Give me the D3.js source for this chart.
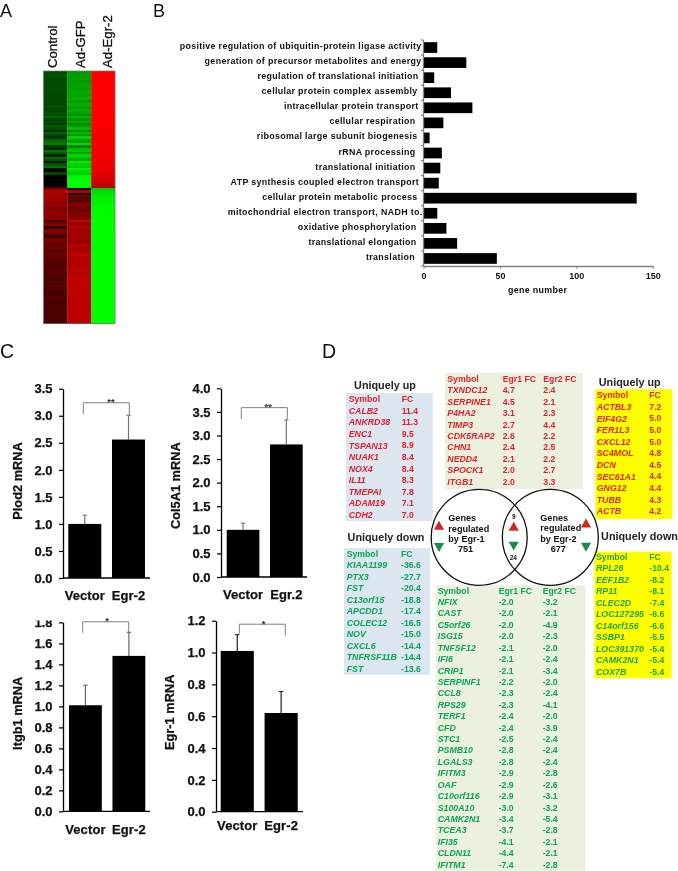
<!DOCTYPE html>
<html><head><meta charset="utf-8">
<script src="https://cdn.jsdelivr.net/npm/d3@7"></script>
<style>
html,body{margin:0;padding:0;background:#fff}
svg{display:block;font-family:"Liberation Sans",Arial,sans-serif;filter:blur(0.35px)}
</style></head><body>
<script>
// ---------- Panel A data ----------
const heatSamples = ["Control","Ad-GFP","Ad-Egr-2"];
const heatControl = [-.30,-.31,-.30,-.29,-.31,-.30,-.27,-.30,-.32,-.28,-.30,-.27,-.31,-.28,-.25,-.33,-.30,-.25,-.34,-.28,-.40,-.26,-.30,-.22,-.36,-.30,-.18,-.38,-.28,-.20,-.40,-.44,-.48,-.24,-.14,-.46,-.36,-.12,-.42,-.30,-.08,-.34,-.46,-.05,-.02,-.28,0,0,-.03,0,.06,.10,
 .50,.72,.62,.65,.66,.62,.58,.60,.52,.52,.55,.54,.56,.55,.24,.48,.52,.20,.50,.52,.45,.24,.46,.48,.42,.40,.44,.30,.38,.42,.36,.40,.34,.34,.26,.36,.34,.32,.36,.32,.30,.34,.30,.34,.32,.28,.28,.30,.33,.30,.26,.30,.28,.31,.30,.29,.30,.29,.29,.30];
const heatGfp = [-.60,-.62,-.60,-.63,-.60,-.62,-.64,-.62,-.65,-.66,-.64,-.66,-.68,-.60,-.70,-.66,-.58,-.68,-.62,-.55,-.70,-.58,-.66,-.50,-.62,-.74,-.54,-.72,-.60,-.82,-.66,-.60,-.84,-.52,-.72,-.78,-.62,-.84,-.72,-.64,-.92,-.84,-.76,-.96,-.88,-.80,-.94,-1,-.98,-1,-1,-.96,
 .08,.70,.06,.45,.35,.32,.48,.55,.44,.42,.50,.52,.50,.52,.78,.55,.60,.70,.58,.62,.68,.60,.66,.62,.62,.72,.64,.68,.66,.76,.70,.68,.72,.74,.66,.70,.74,.70,.70,.74,.78,.72,.75,.72,.76,.74,.72,.75,.74,.72,.76,.74,.73,.75,.73,.74,.75,.73,.74,.73];
const heatEgr2 = [1,1,1,1,1,1,1,1,1,1,1,1,1,1,1,.99,1,1,.99,1,1,.99,.98,1,.98,.99,.98,.97,.98,.97,.96,.97,.96,.97,.95,.96,.95,.94,.95,.93,.94,.92,.93,.92,.9,.88,.86,.85,.84,.82,.76,.72,
 -.82,-.86,-.88,-.92,-.94,-.95,-.96,-.97,-.98,-.98,-.99,-.99,-1,-.99,-1,-1,-.99,-1,-1,-1,-1,-1,-1,-1,-1,-1,-1,-1,-1,-1,-1,-1,-1,-1,-1,-1,-1,-1,-1,-1,-1,-1,-1,-1,-1,-1,-1,-1,-1,-1,-1,-1,-1,-1,-1,-1,-1,-1,-1,-1];
// ---------- Panel B data ----------
const goTerms = ["positive regulation of ubiquitin-protein ligase activity","generation of precursor metabolites and energy","regulation of translational initiation","cellular protein complex assembly","intracellular protein transport","cellular respiration","ribosomal large subunit biogenesis","rRNA processing","translational initiation","ATP synthesis coupled electron transport","cellular protein metabolic process","mitochondrial electron transport, NADH to.","oxidative phosphorylation","translational elongation","translation"];
const goCounts = [9,28,7,18,32,13,4,12,11,10,139.5,9,15,22,48];
const goTicks = [0,50,100,150];
// ---------- Panel C data ----------
const plod2Groups = ["Vector","Egr-2"], plod2Values = [1.0,2.56], plod2Tops = [1.16,3.01], plod2Ticks = [0,.5,1,1.5,2,2.5,3,3.5];
const col5Groups = ["Vector","Egr.2"], col5Values = [1.0,2.81], col5Tops = [1.14,3.33], col5Ticks = [0,.5,1,1.5,2,2.5,3,3.5,4];
const itgbGroups = ["Vector","Egr-2"], itgbValues = [1.01,1.48], itgbTops = [1.2,1.705], itgbTicks = [0,.2,.4,.6,.8,1,1.2,1.4,1.6,1.8];
const egr1Groups = ["Vector","Egr-2"], egr1Values = [1.01,.62], egr1Tops = [1.113,.755], egr1Ticks = [0,.2,.4,.6,.8,1,1.2];
// ---------- Panel D data ----------
const upEgr1Sym = ["CALB2","ANKRD38","ENC1","TSPAN13","NUAK1","NOX4","IL11","TMEPAI","ADAM19","CDH2"];
const upEgr1FC = ["11.4","11.3","9.5","8.9","8.4","8.4","8.3","7.8","7.1","7.0"];
const downEgr1Sym = ["KIAA1199","PTX3","FST","C13orf15","APCDD1","COLEC12","NOV","CXCL6","TNFRSF11B","FST"];
const downEgr1FC = ["-36.6","-27.7","-20.4","-18.8","-17.4","-16.5","-15.0","-14.4","-14.4","-13.6"];
const upBothSym = ["TXNDC12","SERPINE1","P4HA2","TIMP3","CDK5RAP2","CHN1","NEDD4","SPOCK1","ITGB1"];
const upBothE1 = ["4.7","4.5","3.1","2.7","2.6","2.4","2.1","2.0","2.0"];
const upBothE2 = ["2.4","2.1","2.3","4.4","2.2","2.5","2.2","2.7","3.3"];
const downBothSym = ["NFIX","CAST","C5orf26","ISG15","TNFSF12","IFI6","CRIP1","SERPINF1","CCL8","RPS29","TERF1","CFD","STC1","PSMB10","LGALS3","IFITM3","OAF","C10orf116","S100A10","CAMK2N1","TCEA3","IFI35","CLDN11","IFITM1"];
const downBothE1 = ["-2.0","-2.0","-2.0","-2.0","-2.1","-2.1","-2.1","-2.2","-2.3","-2.3","-2.4","-2.4","-2.5","-2.8","-2.8","-2.9","-2.9","-2.9","-3.0","-3.4","-3.7","-4.1","-4.4","-7.4"];
const downBothE2 = ["-3.2","-2.1","-4.9","-2.3","-2.0","-2.4","-3.4","-2.0","-2.4","-4.1","-2.0","-3.9","-2.4","-2.4","-2.4","-2.8","-2.6","-3.1","-3.2","-5.4","-2.8","-2.1","-2.1","-2.8"];
const upEgr2Sym = ["ACTBL3","EIF4G2","FER1L3","CXCL12","SC4MOL","DCN","SEC61A1","GNG12","TUBB","ACTB"];
const upEgr2FC = ["7.2","5.0","5.0","5.0","4.8","4.5","4.4","4.4","4.3","4.2"];
const downEgr2Sym = ["RPL26","EEF1B2","RP11","CLEC2D","LOC127295","C14orf156","SSBP1","LOC391370","CAMK2N1","COX7B"];
const downEgr2FC = ["-10.4","-8.2","-8.1","-7.4","-6.6","-6.6","-5.5","-5.4","-5.4","-5.4"];

const svg = d3.select("body").append("svg").attr("width",678).attr("height",871);
const RED="#e1212b", GREEN="#0aa653";

// panel letters
[["A",0,16.5,18],["B",153,16.5,18],["C",0,358,19.5],["D",322,358,19.5]].forEach(([t,x,y,s])=>
  svg.append("text").attr("x",x).attr("y",y).attr("font-size",s).attr("fill","#111").text(t));

// ---------- A ----------
{
  const g = svg.append("g");
  const x = d3.scaleBand().domain(heatSamples).range([43.5,115]);
  // the two clusters occupy different heights in the figure
  const yUp = d3.scaleLinear().domain([0,52]).range([71,188]);
  const yDn = d3.scaleLinear().domain([52,112]).range([188,323.5]);
  const yPos = i => Math.round(i<=52 ? yUp(i) : yDn(i));
  const color = d3.scaleLinear().domain([-1,0,1]).range(["#00ff00","#000000","#ff0000"]);
  [heatControl,heatGfp,heatEgr2].forEach((col,c)=>{
    g.selectAll(null).data(col).join("rect")
      .attr("x",x(heatSamples[c])).attr("width",x.bandwidth()+.2)
      .attr("y",(d,i)=>yPos(i)).attr("height",(d,i)=>yPos(i+1)-yPos(i))
      .attr("fill",d=>color(d));
  });
  g.append("rect").attr("x",43.5).attr("y",71).attr("width",71.5).attr("height",252.5)
    .attr("fill","none").attr("stroke","#777").attr("stroke-width",.7);
  heatSamples.forEach((s,i)=>{
    const tx=[57,85,111.5][i];
    svg.append("text").attr("transform",`translate(${tx},68) rotate(-90)`)
      .attr("font-size",13.2).attr("fill","#111").attr("stroke","#111").attr("stroke-width",.3).text(s);
  });
}

// ---------- B ----------
{
  const g = svg.append("g");
  const x = d3.scaleLinear().domain([0,150]).range([423.5,652.7]);
  const y = d3.scaleBand().domain(goTerms).range([40,266]).paddingInner(.29).paddingOuter(.145);
  const step = y.step();
  const labelInset = [2,2,5,6,5,8,6,8,8,4.5,6,1,7,7,8.5];
  g.selectAll(null).data(goCounts).join("rect")
    .attr("x",x(0)).attr("y",(d,i)=>y(goTerms[i])).attr("height",y.bandwidth())
    .attr("width",d=>x(d)-x(0)).attr("fill","#000");
  g.selectAll(null).data(goTerms).join("text")
    .attr("x",(d,i)=>x(0)-labelInset[i]).attr("y",d=>y(d)+y.bandwidth()/2-.8)
    .attr("text-anchor","end").attr("dominant-baseline","middle")
    .attr("font-size",8.9).attr("font-weight","bold").attr("letter-spacing",.33).attr("fill","#111").text(d=>d);
  const axis = g.append("g").attr("transform","translate(0,266)")
    .call(d3.axisBottom(x).tickValues(goTicks).tickSize(2.5).tickSizeOuter(0).tickPadding(4));
  axis.select(".domain").attr("stroke","#808080").attr("stroke-width",1.3);
  axis.selectAll("line").attr("stroke","#808080").attr("stroke-width",1.2);
  axis.selectAll("text").attr("font-family",null).attr("font-size",9).attr("font-weight","bold").attr("fill","#111");
  g.append("line").attr("x1",x(0)).attr("x2",x(0)).attr("y1",40).attr("y2",266).attr("stroke","#808080").attr("stroke-width",1.3);
  g.selectAll(null).data(d3.range(goTerms.length+1)).join("line")
    .attr("x1",x(0)-2.5).attr("x2",x(0)).attr("y1",i=>40+i*step).attr("y2",i=>40+i*step)
    .attr("stroke","#808080").attr("stroke-width",1.1);
  g.append("text").attr("x",537.7).attr("y",293).attr("text-anchor","middle")
    .attr("font-size",8.9).attr("font-weight","bold").attr("letter-spacing",.33).attr("fill","#111").text("gene number");
}

// ---------- C ----------
function barChart(o){
  const g = svg.append("g");
  const x = d3.scaleBand().domain(o.groups).range(o.barRange).paddingInner(.245);
  const y = d3.scaleLinear().domain([0,o.max]).range([o.y0,o.yTop]);
  const cx = i => x(o.groups[i])+x.bandwidth()/2;
  // error bars
  g.selectAll(null).data(o.tops).join("line")
    .attr("x1",(d,i)=>cx(i)).attr("x2",(d,i)=>cx(i)).attr("y1",d=>y(d)).attr("y2",(d,i)=>y(o.values[i]))
    .attr("stroke",o.errColor).attr("stroke-width",1.2);
  g.selectAll(null).data(o.tops).join("line")
    .attr("x1",(d,i)=>cx(i)-2.2).attr("x2",(d,i)=>cx(i)+2.2).attr("y1",d=>y(d)).attr("y2",d=>y(d))
    .attr("stroke",o.errColor).attr("stroke-width",1.1);
  g.selectAll(null).data(o.values).join("rect")
    .attr("x",(d,i)=>x(o.groups[i])).attr("width",x.bandwidth())
    .attr("y",d=>y(d)).attr("height",d=>y(0)-y(d)).attr("fill","#000");
  const ax = g.append("g").attr("transform",`translate(${o.axisX},0)`)
    .call(d3.axisLeft(y).tickValues(o.ticks).tickFormat(d3.format(".1f")).tickSize(4).tickSizeOuter(0).tickPadding(o.pad));
  ax.select(".domain").attr("stroke","#000").attr("stroke-width",1.3);
  ax.selectAll("line").attr("stroke","#000").attr("stroke-width",1.2);
  ax.selectAll("text").attr("font-family",null).attr("font-size",13).attr("font-weight","bold").attr("fill","#111").attr("stroke","#111").attr("stroke-width",.25);
  if(o.clipTop){
    const id="clip"+o.label.replace(/\W/g,"");
    svg.append("clipPath").attr("id",id).append("rect").attr("x",-100).attr("y",o.clipTop).attr("width",300).attr("height",400);
    ax.attr("clip-path",`url(#${id})`);
  }
  g.append("line").attr("x1",o.axisX).attr("x2",o.axisEnd).attr("y1",y(0)).attr("y2",y(0)).attr("stroke","#000").attr("stroke-width",1.3);
  g.selectAll(null).data(o.groups).join("text")
    .attr("x",d=>x(d)+x.bandwidth()/2).attr("y",o.groupY).attr("text-anchor","middle")
    .attr("font-size",13).attr("font-weight","bold").attr("letter-spacing",.1).attr("fill","#111").attr("stroke","#111").attr("stroke-width",.25).text(d=>d);
  g.append("text").attr("transform",`translate(${o.labelX},${o.labelY}) rotate(-90)`)
    .attr("text-anchor","middle").attr("font-size",12.8).attr("font-weight","bold").attr("fill","#111").attr("stroke","#111").attr("stroke-width",.25).text(o.label);
  // significance bracket
  const b=o.bracket;
  g.append("path").attr("fill","none").attr("stroke","#808080").attr("stroke-width",1)
    .attr("d",d3.line()([[b.x0,y(b.left)],[b.x0,y(b.level)],[b.x1,y(b.level)],[b.x1,y(b.right)]]));
  g.append("text").attr("x",b.starX).attr("y",y(b.level)+2.5).attr("text-anchor","middle")
    .attr("font-size",9.5).attr("font-weight","bold").attr("fill","#333").text(b.stars);
}
barChart({groups:plod2Groups,values:plod2Values,tops:plod2Tops,ticks:plod2Ticks,max:3.5,barRange:[68.3,145],y0:578,yTop:388.7,axisX:63,axisEnd:150,pad:6.5,groupY:600,label:"Plod2 mRNA",labelX:21.5,labelY:481,errColor:"#777",
  bracket:{x0:83.3,x1:129.3,level:3.24,left:3.03,right:3.01,starX:111,stars:"**"}});
barChart({groups:col5Groups,values:col5Values,tops:col5Tops,ticks:col5Ticks,max:4,barRange:[226.7,302.7],y0:577,yTop:388.3,axisX:221,axisEnd:307,pad:6.5,groupY:599,label:"Col5A1 mRNA",labelX:179.5,labelY:485.7,errColor:"#777",
  bracket:{x0:241.3,x1:287.3,level:3.59,left:3.35,right:3.33,starX:268.3,stars:"**"}});
barChart({groups:itgbGroups,values:itgbValues,tops:itgbTops,ticks:itgbTicks,max:1.8,barRange:[69,145.3],y0:811.3,yTop:622.3,axisX:63,axisEnd:150,pad:6.5,groupY:834,label:"Itgb1 mRNA",labelX:22,labelY:713.3,errColor:"#666",clipTop:620.5,
  bracket:{x0:82.7,x1:128.7,level:1.805,left:1.70,right:1.705,starX:107,stars:"*"}});
barChart({groups:egr1Groups,values:egr1Values,tops:egr1Tops,ticks:egr1Ticks,max:1.2,barRange:[220.7,297.7],y0:811.7,yTop:620.7,axisX:216,axisEnd:303,pad:6.5,groupY:830,label:"Egr-1 mRNA",labelX:173.5,labelY:712.3,errColor:"#222",
  bracket:{x0:239.3,x1:285.3,level:1.178,left:1.12,right:1.107,starX:263.7,stars:"*"}});

// ---------- D ----------
function table(o){
  const g = svg.append("g");
  g.append("rect").attr("x",o.box[0]).attr("y",o.box[1]).attr("width",o.box[2]-o.box[0]).attr("height",o.box[3]-o.box[1]).attr("fill",o.bg);
  const n=o.sym.length;
  const y=d3.scaleLinear().domain([0,n]).range([o.y0,o.y1]);
  o.headers.forEach((h,c)=>g.append("text").attr("x",o.cols[c]).attr("y",y(0)).attr("dominant-baseline","middle")
    .attr("font-size",8.7).attr("font-weight","bold").attr("fill",o.color).text(h));
  g.selectAll(null).data(o.sym).join("text").attr("x",o.cols[0]).attr("y",(d,i)=>y(i+1)).attr("dominant-baseline","middle")
    .attr("font-size",8.8).attr("font-weight","bold").attr("font-style","italic").attr("fill",o.color).text(d=>d);
  o.vals.forEach((v,c)=>g.selectAll(null).data(v).join("text").attr("x",o.cols[c+1]).attr("y",(d,i)=>y(i+1)).attr("dominant-baseline","middle")
    .attr("font-size",8.7).attr("font-weight","bold").attr("fill",o.color).text(d=>d));
}
const BLUE="#dce6f1", PALE="#ebf1de", YEL="#ffff00";
table({box:[346,393,432.7,521],bg:BLUE,color:RED,headers:["Symbol","FC"],sym:upEgr1Sym,vals:[upEgr1FC],cols:[348.7,401.7],y0:400,y1:515.5});
table({box:[344,548,430,675],bg:BLUE,color:GREEN,headers:["Symbol","FC"],sym:downEgr1Sym,vals:[downEgr1FC],cols:[346.7,401],y0:554.3,y1:669.3});
table({box:[445,373,582.7,489],bg:PALE,color:RED,headers:["Symbol","Egr1 FC","Egr2 FC"],sym:upBothSym,vals:[upBothE1,upBothE2],cols:[447.3,502.7,543.3],y0:379.7,y1:482.3});
table({box:[436,585.3,585.3,870.7],bg:PALE,color:GREEN,headers:["Symbol","Egr1 FC","Egr2 FC"],sym:downBothSym,vals:[downBothE1,downBothE2],cols:[437.7,498.7,542.7],y0:591.3,y1:865.3});
table({box:[595.3,389.3,672.3,519],bg:YEL,color:"#e2231a",headers:["Symbol","FC"],sym:upEgr2Sym,vals:[upEgr2FC],cols:[596.7,649.3],y0:396,y1:512});
table({box:[594.3,551.7,671.7,678.3],bg:YEL,color:"#1ea53c",headers:["Symbol","FC"],sym:downEgr2Sym,vals:[downEgr2FC],cols:[596,649.3],y0:557.3,y1:672.3});

[["Uniquely up",385,386],["Uniquely down",386,538],["Uniquely up",629.7,383.5],["Uniquely down",639.5,537]].forEach(([t,x,y])=>
  svg.append("text").attr("x",x).attr("y",y).attr("text-anchor","middle").attr("dominant-baseline","middle")
   .attr("font-size",10.8).attr("font-weight","bold").attr("fill","#222").text(t));

// Venn
[[479.2,537.3],[550.3,537.3]].forEach(([x,y])=>svg.append("circle").attr("cx",x).attr("cy",y).attr("r",48)
  .attr("fill","none").attr("stroke","#111").attr("stroke-width",1.3));
[[448.3,519,"Genes"],[448.3,529.3,"regulated"],[448.3,539.7,"by Egr-1"],[458,549.7,"751"],
 [540.3,518.7,"Genes"],[540.3,529,"regulated"],[540.3,539.5,"by Egr-2"],[550.7,549.5,"677"]].forEach(([x,y,t])=>
  svg.append("text").attr("x",x).attr("y",y).attr("dominant-baseline","middle").attr("font-size",9.1)
    .attr("font-weight","bold").attr("fill","#111").text(t));
[[513.7,517,"9"],[513.3,558.3,"24"]].forEach(([x,y,t])=>
  svg.append("text").attr("x",x).attr("y",y).attr("text-anchor","middle").attr("dominant-baseline","middle").attr("font-size",6.5)
    .attr("font-weight","bold").attr("fill","#111").text(t));
const tri=d3.symbol().type(d3.symbolTriangle).size(45);
[[439,526.7],[513.7,527.7],[586,524.5]].forEach(([x,y])=>svg.append("path").attr("d",tri()).attr("transform",`translate(${x},${y})`).attr("fill","#d3271f"));
[[439,546],[513.7,544.7],[586,545.8]].forEach(([x,y])=>svg.append("path").attr("d",tri()).attr("transform",`translate(${x},${y}) rotate(180)`).attr("fill","#1d8a4b"));
</script>
</body></html>
